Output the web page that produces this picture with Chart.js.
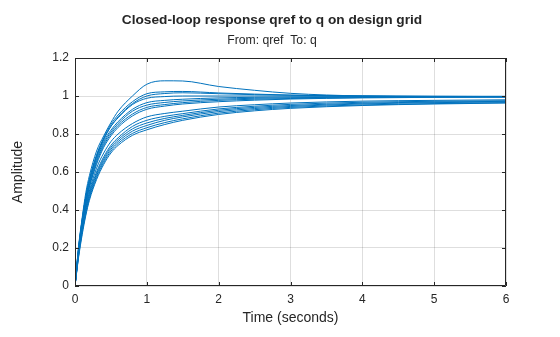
<!DOCTYPE html>
<html>
<head>
<meta charset="utf-8">
<script src="https://cdn.jsdelivr.net/npm/chart.js@4.4.0/dist/chart.umd.min.js"></script>
<style>
html,body{margin:0;padding:0;background:#fff;}
#c{display:block;}
</style>
</head>
<body>
<canvas id="c" width="560" height="337"></canvas>
<script>
// Time samples (seconds)
const times = [0, 0.05, 0.1, 0.15, 0.2, 0.3, 0.4, 0.5, 0.6, 0.8, 1, 1.25, 1.5, 2, 2.5, 3, 4, 5, 6];

// Step responses, one per design-grid point
const respA  = [0, 0.21, 0.36, 0.49, 0.58, 0.71, 0.79, 0.86, 0.92, 1.0, 1.062, 1.08, 1.079, 1.05, 1.03, 1.014, 1.0, 0.996, 0.995];
const respB  = [0, 0.2, 0.35, 0.47, 0.56, 0.69, 0.78, 0.85, 0.9, 0.97, 1.012, 1.022, 1.024, 1.016, 1.01, 1.005, 1.0, 0.998, 0.997];
const respB2 = [0, 0.2, 0.35, 0.47, 0.56, 0.685, 0.775, 0.84, 0.89, 0.96, 1.0, 1.013, 1.017, 1.012, 1.007, 1.004, 1.0, 0.998, 0.997];
const respC  = [0, 0.2, 0.34, 0.46, 0.55, 0.68, 0.77, 0.84, 0.885, 0.955, 0.988, 0.997, 1.0, 1.0, 1.0, 1.0, 0.999, 0.998, 0.998];
const respD1 = [0, 0.19, 0.34, 0.45, 0.54, 0.67, 0.76, 0.82, 0.865, 0.93, 0.965, 0.977, 0.983, 0.99, 0.993, 0.995, 0.997, 0.998, 0.998];
const respD2 = [0, 0.19, 0.33, 0.44, 0.53, 0.66, 0.75, 0.81, 0.855, 0.92, 0.952, 0.966, 0.974, 0.983, 0.988, 0.991, 0.994, 0.996, 0.997];
const respD3 = [0, 0.18, 0.33, 0.44, 0.52, 0.65, 0.74, 0.8, 0.845, 0.905, 0.94, 0.955, 0.965, 0.977, 0.983, 0.987, 0.992, 0.994, 0.995];
const respD4 = [0, 0.18, 0.32, 0.43, 0.52, 0.64, 0.73, 0.79, 0.835, 0.895, 0.93, 0.947, 0.958, 0.97, 0.978, 0.984, 0.99, 0.993, 0.994];
const respE1 = [0, 0.18, 0.32, 0.42, 0.5, 0.62, 0.7, 0.76, 0.8, 0.855, 0.89, 0.908, 0.92, 0.942, 0.954, 0.963, 0.973, 0.977, 0.98];
const respE2 = [0, 0.17, 0.31, 0.41, 0.49, 0.6, 0.68, 0.74, 0.78, 0.84, 0.872, 0.893, 0.907, 0.932, 0.946, 0.956, 0.967, 0.972, 0.975];
const respE3 = [0, 0.17, 0.3, 0.4, 0.48, 0.59, 0.67, 0.73, 0.77, 0.827, 0.858, 0.882, 0.898, 0.925, 0.94, 0.95, 0.962, 0.968, 0.972];
const respE4 = [0, 0.16, 0.29, 0.39, 0.47, 0.58, 0.66, 0.72, 0.76, 0.815, 0.845, 0.872, 0.89, 0.918, 0.934, 0.945, 0.958, 0.965, 0.969];
const respE5 = [0, 0.16, 0.28, 0.38, 0.46, 0.57, 0.65, 0.71, 0.75, 0.803, 0.833, 0.86, 0.88, 0.91, 0.928, 0.94, 0.953, 0.96, 0.965];
const respE6 = [0, 0.15, 0.27, 0.37, 0.45, 0.56, 0.64, 0.7, 0.74, 0.793, 0.822, 0.85, 0.872, 0.903, 0.922, 0.935, 0.95, 0.958, 0.963];

const responses = [respA, respB, respB2, respC, respD1, respD2, respD3, respD4, respE1, respE2, respE3, respE4, respE5, respE6];

// Axis ticks
const xTicks = [0, 1, 2, 3, 4, 5, 6];
const yTicks = [0, 0.2, 0.4, 0.6, 0.8, 1, 1.2];

const titleText = 'Closed-loop response qref to q on design grid';
const subtitleText = 'From: qref  To: q';
const xLabel = 'Time (seconds)';
const yLabel = 'Amplitude';

const FONT = '"Liberation Sans", Arial, Helvetica, sans-serif';
const INK = '#262626';

const datasets = responses.map((r, k) => ({
  label: 'resp' + k,
  data: times.map((t, i) => ({x: t, y: r[i]})),
  borderColor: '#0072BD',
  borderWidth: 1,
  pointRadius: 0,
  fill: false,
  cubicInterpolationMode: 'monotone'
}));

const framePlugin = {
  id: 'frame',
  afterDraw(chart) {
    const {ctx, chartArea: a, scales} = chart;
    ctx.save();
    ctx.strokeStyle = INK;
    ctx.lineWidth = 1;
    ctx.beginPath();
    ctx.rect(Math.round(a.left) + 0.5, Math.round(a.top) + 0.5, Math.round(a.right - a.left) - 1, Math.round(a.bottom - a.top) - 1);
    ctx.stroke();
    const L = 4;
    ctx.beginPath();
    xTicks.forEach(v => {
      const px = Math.round(scales.x.getPixelForValue(v)) + 0.5;
      ctx.moveTo(px, a.bottom); ctx.lineTo(px, a.bottom - L);
      ctx.moveTo(px, a.top); ctx.lineTo(px, a.top + L);
    });
    yTicks.forEach(v => {
      const py = Math.round(scales.y.getPixelForValue(v)) + 0.5;
      ctx.moveTo(a.left, py); ctx.lineTo(a.left + L, py);
      ctx.moveTo(a.right, py); ctx.lineTo(a.right - L, py);
    });
    ctx.stroke();
    // Titles
    ctx.fillStyle = INK;
    ctx.textAlign = 'center';
    ctx.textBaseline = 'middle';
    ctx.font = 'bold 13.7px ' + FONT;
    ctx.fillText(titleText, 272, 20);
    ctx.font = '12.2px ' + FONT;
    ctx.fillText(subtitleText, 272, 41);
    ctx.restore();
  }
};

new Chart(document.getElementById('c'), {
  type: 'line',
  data: {datasets},
  options: {
    responsive: false,
    devicePixelRatio: 1,
    animation: false,
    layout: {padding: {top: 58, right: 54, bottom: 0, left: 0}},
    plugins: {legend: {display: false}, tooltip: {enabled: false}, title: {display: false}},
    scales: {
      x: {
        type: 'linear', min: 0, max: 6,
        afterBuildTicks: s => { s.ticks = xTicks.map(v => ({value: v})); },
        ticks: {color: INK, font: {family: FONT, size: 12}, padding: 6, callback: v => String(v)},
        grid: {color: 'rgba(0,0,0,0.13)', drawTicks: false},
        border: {display: false},
        title: {display: true, text: xLabel, color: INK, font: {family: FONT, size: 14}, padding: {top: 0, bottom: 10}},
        afterFit: s => { s.height = 51; }
      },
      y: {
        type: 'linear', min: 0, max: 1.2,
        afterBuildTicks: s => { s.ticks = yTicks.map(v => ({value: v})); },
        ticks: {color: INK, font: {family: FONT, size: 12}, padding: 6, callback: v => String(Number(v.toFixed(1)))},
        grid: {color: 'rgba(0,0,0,0.13)', drawTicks: false},
        border: {display: false},
        title: {display: true, text: yLabel, color: INK, font: {family: FONT, size: 14}, padding: {top: 10, bottom: 0}},
        afterFit: s => { s.width = 75; }
      }
    }
  },
  plugins: [framePlugin]
});
</script>
</body>
</html>
